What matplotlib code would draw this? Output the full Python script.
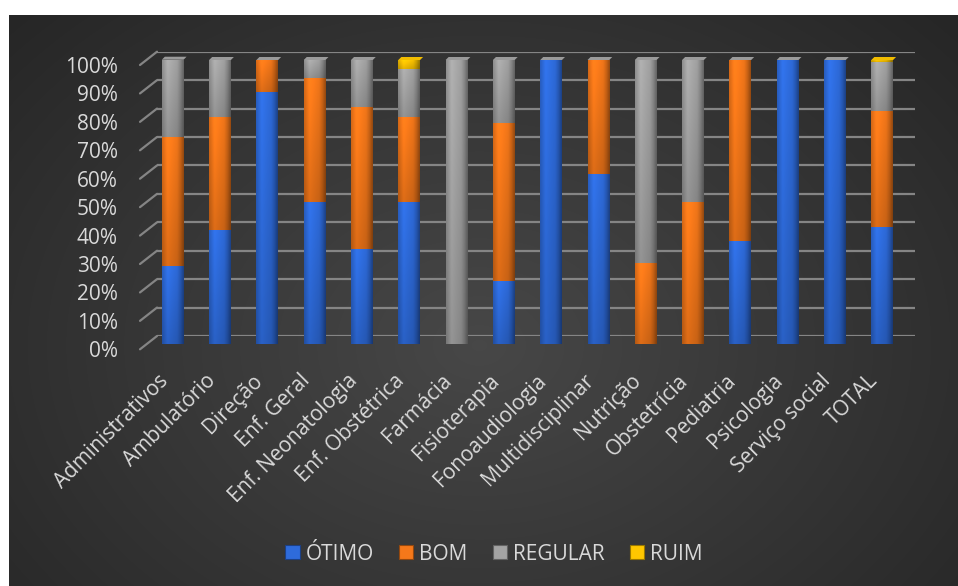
import numpy as np
import matplotlib
matplotlib.use("Agg")
import matplotlib.pyplot as plt
import matplotlib.patches as patches
from matplotlib.patches import ConnectionPatch
from matplotlib.transforms import ScaledTranslation

plt.rcParams["font.family"] = ["Open Sans", "DejaVu Sans"]

categories = [
    "Administrativos", "Ambulatório", "Direção", "Enf. Geral",
    "Enf. Neonatologia", "Enf. Obstétrica", "Farmácia", "Fisioterapia",
    "Fonoaudiologia", "Multidisciplinar", "Nutrição", "Obstetrícia",
    "Pediatria", "Psicologia", "Serviço social", "TOTAL",
]
otimo = [27.3, 40.0, 88.9, 50.0, 33.3, 50.0, 0, 22.2, 100, 60.0, 0, 0, 36.4, 100, 100, 41.3]
bom = [45.5, 40.0, 11.1, 43.75, 50.0, 30.0, 0, 55.6, 0, 40.0, 28.6, 50.0, 63.6, 0, 0, 40.9]
regular = [27.3, 20.0, 0, 6.25, 16.7, 16.7, 100, 22.2, 0, 0, 71.4, 50.0, 0, 0, 0, 17.0]
ruim = [0, 0, 0, 0, 0, 3.3, 0, 0, 0, 0, 0, 0, 0, 0, 0, 0.8]
series_names = ["ÓTIMO", "BOM", "REGULAR", "RUIM"]
yticks = list(range(0, 101, 10))

series_colors = [
    np.array([0.18, 0.42, 0.86]),
    np.array([0.96, 0.47, 0.10]),
    np.array([0.64, 0.64, 0.64]),
    np.array([1.00, 0.78, 0.00]),
]
text_color = "#d9d9d9"
grid_color = "#858585"

W, H = 958, 586
fig = plt.figure(figsize=(W / 100, H / 100), dpi=100, facecolor="white")


def frac(l, t, r, b):
    # pixel box (from top-left) -> figure fraction rect
    return [l / W, 1 - b / H, (r - l) / W, (b - t) / H]


# dark radial background
bg = fig.add_axes(frac(9, 15, W, H))
bg.axis("off")
yy, xx = np.mgrid[0:H - 15, 0:W - 9]
d = np.sqrt(((xx - 470) / 640.0) ** 2 + ((yy - 330) / 480.0) ** 2)
val = 0.28 - 0.13 * np.clip(d, 0, 1)
bg.imshow(np.dstack([val] * 3), aspect="auto", interpolation="bilinear")

# back wall with gridlines
bx = fig.add_axes(frac(157, 51.7, 915, 336))
bx.set_xlim(-0.5, 15.5)
bx.set_ylim(0, 100)
bx.axis("off")
for v in yticks:
    bx.axhline(v, color=grid_color, lw=1.6)

# front plane carrying the percent labels
fx = fig.add_axes(frac(140, 65, 898, 349.3))
fx.set_xlim(-0.5, 15.5)
fx.set_ylim(0, 100)
fx.patch.set_visible(False)
for s in fx.spines.values():
    s.set_visible(False)
fx.set_xticks([])
fx.set_yticks(yticks)
fx.set_yticklabels([f"{v}%" for v in yticks], fontsize=15, color=text_color)
fx.tick_params(axis="y", length=0, pad=16)
for v in yticks:
    fig.add_artist(ConnectionPatch(xyA=(-0.5, v), coordsA=fx.transData,
                                   xyB=(-0.5, v), coordsB=bx.transData,
                                   color=grid_color, lw=1.6))

# bars
ax = fig.add_axes(frac(149.05, 60, 905.85, 344))
ax.patch.set_visible(False)
for s in ax.spines.values():
    s.set_visible(False)

width = 0.46
cap_dx = 3 / 47.3
cap_dy = 3 * 100 / 284.0
u = np.linspace(0, 1, 40)
v = np.linspace(0, 1, 32)
sx = np.interp(u, [0, 0.25, 0.7, 0.85, 1], [0.85, 1.06, 0.95, 0.8, 0.6])
sy = np.interp(v, [0, 1], [0.86, 1.03])

data = [otimo, bom, regular, ruim]
for i in range(len(categories)):
    bottom = 0.0
    x0, x1 = i - width / 2, i + width / 2
    for k, vals in enumerate(data):
        h = vals[i]
        if h <= 0:
            continue
        arr = np.clip(series_colors[k][None, None, :] * sx[None, :, None] * sy[:, None, None], 0, 1)
        ax.imshow(arr, extent=(x0, x1, bottom, bottom + h), origin="lower",
                  aspect="auto", interpolation="bilinear", zorder=3)
        bottom += h
    cap_col = series_colors[3] if ruim[i] > 0 else series_colors[2]
    cap = patches.Polygon(
        [(x0, bottom), (x1, bottom), (x1 + cap_dx, bottom + cap_dy), (x0 + cap_dx, bottom + cap_dy)],
        closed=True, facecolor=np.clip(cap_col * 0.95, 0, 1), edgecolor="none",
        zorder=4, clip_on=False)
    ax.add_patch(cap)

ax.set_xlim(-0.5, 15.5)
ax.set_ylim(0, 100)
ax.set_yticks([])
ax.set_xticks(range(len(categories)))
ax.set_xticklabels(categories, rotation=45, ha="right", va="baseline",
                   rotation_mode="anchor", fontsize=15, color=text_color)
ax.tick_params(axis="x", length=0, pad=27)
shift = ScaledTranslation(-4 / 100, 0, fig.dpi_scale_trans)
for lbl in ax.get_xticklabels():
    lbl.set_transform(lbl.get_transform() + shift)

handles = [patches.Patch(facecolor=c, edgecolor=np.clip(c * 0.6, 0, 1), lw=0.8)
           for c in series_colors]
fig.legend(handles, series_names, loc="center", bbox_to_anchor=(494 / W, 1 - 554 / H),
           ncol=4, frameon=False, fontsize=15, labelcolor=text_color,
           handlelength=0.68, handleheight=0.68, handletextpad=0.3, columnspacing=1.2)

fig.savefig("out.png", dpi=100, facecolor=fig.get_facecolor())
